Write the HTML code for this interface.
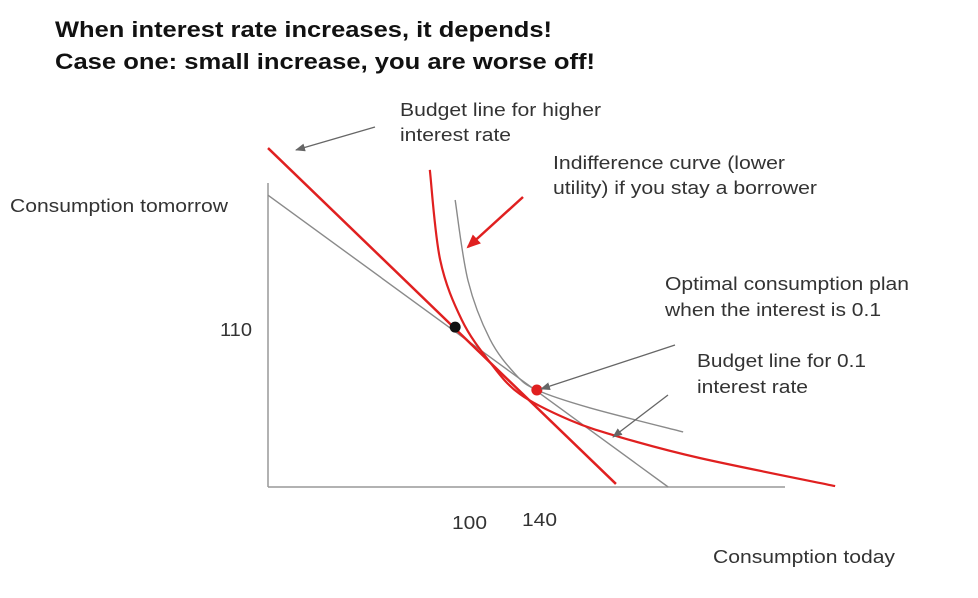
<!DOCTYPE html>
<html><head><meta charset="utf-8">
<style>
body{margin:0;background:#fff;}
svg{display:block;font-family:"Liberation Sans",sans-serif;}
</style></head>
<body>
<svg id="chart" width="978" height="598" viewBox="0 0 978 598">
<text x="55" y="37" font-size="22" font-weight="bold" fill="#111" textLength="497" lengthAdjust="spacingAndGlyphs">When interest rate increases, it depends!</text>
<text x="55" y="69" font-size="22" font-weight="bold" fill="#111" textLength="540" lengthAdjust="spacingAndGlyphs">Case one: small increase, you are worse off!</text>
<line x1="268" y1="183" x2="268" y2="487" stroke="#999" stroke-width="1.5"/>
<line x1="268" y1="487" x2="785" y2="487" stroke="#999" stroke-width="1.5"/>
<g id="marks"></g>
<g font-size="18" fill="#333" lengthAdjust="spacingAndGlyphs">
<text x="10" y="212" textLength="218" lengthAdjust="spacingAndGlyphs">Consumption tomorrow</text>
<text x="220" y="336" textLength="32" lengthAdjust="spacingAndGlyphs">110</text>
<text x="452" y="529" textLength="35" lengthAdjust="spacingAndGlyphs">100</text>
<text x="522" y="526" textLength="35" lengthAdjust="spacingAndGlyphs">140</text>
<text x="713" y="563" textLength="182" lengthAdjust="spacingAndGlyphs">Consumption today</text>
<text x="400" y="116"><tspan x="400" textLength="201" lengthAdjust="spacingAndGlyphs">Budget line for higher</tspan><tspan x="400" dy="25" textLength="111" lengthAdjust="spacingAndGlyphs">interest rate</tspan></text>
<text x="553" y="169"><tspan x="553" textLength="232" lengthAdjust="spacingAndGlyphs">Indifference curve (lower</tspan><tspan x="553" dy="25" textLength="264" lengthAdjust="spacingAndGlyphs">utility) if you stay a borrower</tspan></text>
<text x="665" y="290"><tspan x="665" textLength="244" lengthAdjust="spacingAndGlyphs">Optimal consumption plan</tspan><tspan x="665" dy="26" textLength="216" lengthAdjust="spacingAndGlyphs">when the interest is 0.1</tspan></text>
<text x="697" y="367"><tspan x="697" textLength="169" lengthAdjust="spacingAndGlyphs">Budget line for 0.1</tspan><tspan x="697" dy="26" textLength="111" lengthAdjust="spacingAndGlyphs">interest rate</tspan></text>
</g>
<defs>
<marker id="ag" markerWidth="10" markerHeight="8" refX="9" refY="4" orient="auto" markerUnits="userSpaceOnUse"><path d="M0,0 L10,4 L0,8 z" fill="#666"/></marker>
<marker id="ar" markerWidth="14" markerHeight="12" refX="12" refY="6" orient="auto" markerUnits="userSpaceOnUse"><path d="M0,0 L14,6 L0,12 z" fill="#e02020"/></marker>
</defs>
<line x1="375" y1="127" x2="296" y2="150" stroke="#666" stroke-width="1.3" marker-end="url(#ag)"/>
<line x1="523" y1="197" x2="468" y2="247" stroke="#e02020" stroke-width="2.5" marker-end="url(#ar)"/>
<line x1="675" y1="345" x2="541" y2="389" stroke="#666" stroke-width="1.3" marker-end="url(#ag)"/>
<line x1="668" y1="395" x2="613" y2="437" stroke="#666" stroke-width="1.3" marker-end="url(#ag)"/>
</svg>
<script>
// data in normalized units: x 0..100 across axis, y 0..100 up the axis
const budget01X = [0, 77.4];
const budget01Y = [96, 0];
const budgetHighX = [0, 67.3];
const budgetHighY = [111.5, 1];
const grayIcX = [36.2, 38.7, 42.9, 47.8, 52, 62.3, 80.3];
const grayIcY = [94.4, 67.8, 48.7, 37.2, 31.9, 26, 18.1];
const redIcX = [31.3, 33.3, 37.5, 42.9, 48.7, 58.4, 68.1, 83.6, 109.7];
const redIcY = [104.3, 74.7, 54.9, 41.1, 30.6, 22, 16.4, 9.5, 0.3];
const pointX = [36.2, 52];
const pointY = [52.6, 31.9];
const pointNames = ['point-borrower-high-rate', 'point-optimal-01'];
const pointColors = ['#111', '#e02020'];

const sx = v => 268 + v * 5.17;
const sy = v => 487 - v * 3.04;
const NS = 'http://www.w3.org/2000/svg';
const g = document.getElementById('marks');

function smooth(xs, ys) {
  const p = xs.map((x, i) => [sx(x), sy(ys[i])]);
  let d = `M${p[0][0]},${p[0][1]}`;
  for (let i = 0; i < p.length - 1; i++) {
    const p0 = p[i - 1] || p[i], p1 = p[i], p2 = p[i + 1], p3 = p[i + 2] || p2;
    const c1 = [p1[0] + (p2[0] - p0[0]) / 6, p1[1] + (p2[1] - p0[1]) / 6];
    const c2 = [p2[0] - (p3[0] - p1[0]) / 6, p2[1] - (p3[1] - p1[1]) / 6];
    d += ` C${c1[0]},${c1[1]} ${c2[0]},${c2[1]} ${p2[0]},${p2[1]}`;
  }
  return d;
}
function path(d, color, w) {
  const el = document.createElementNS(NS, 'path');
  el.setAttribute('d', d);
  el.setAttribute('fill', 'none');
  el.setAttribute('stroke', color);
  el.setAttribute('stroke-width', w);
  g.appendChild(el);
  return el;
}
let el;
el = path(smooth(budget01X, budget01Y), '#8a8a8a', 1.4);


el = path(smooth(grayIcX, grayIcY), '#8a8a8a', 1.4);


el = path(smooth(budgetHighX, budgetHighY), '#e02020', 2.5);


el = path(smooth(redIcX, redIcY), '#e02020', 2.2);


pointX.forEach((x, i) => {
  const c = document.createElementNS(NS, 'circle');
  c.setAttribute('cx', sx(x));
  c.setAttribute('cy', sy(pointY[i]));
  c.setAttribute('r', 5.5);
  c.setAttribute('fill', pointColors[i]);
  
  
  g.appendChild(c);
});
</script>
</body></html>
